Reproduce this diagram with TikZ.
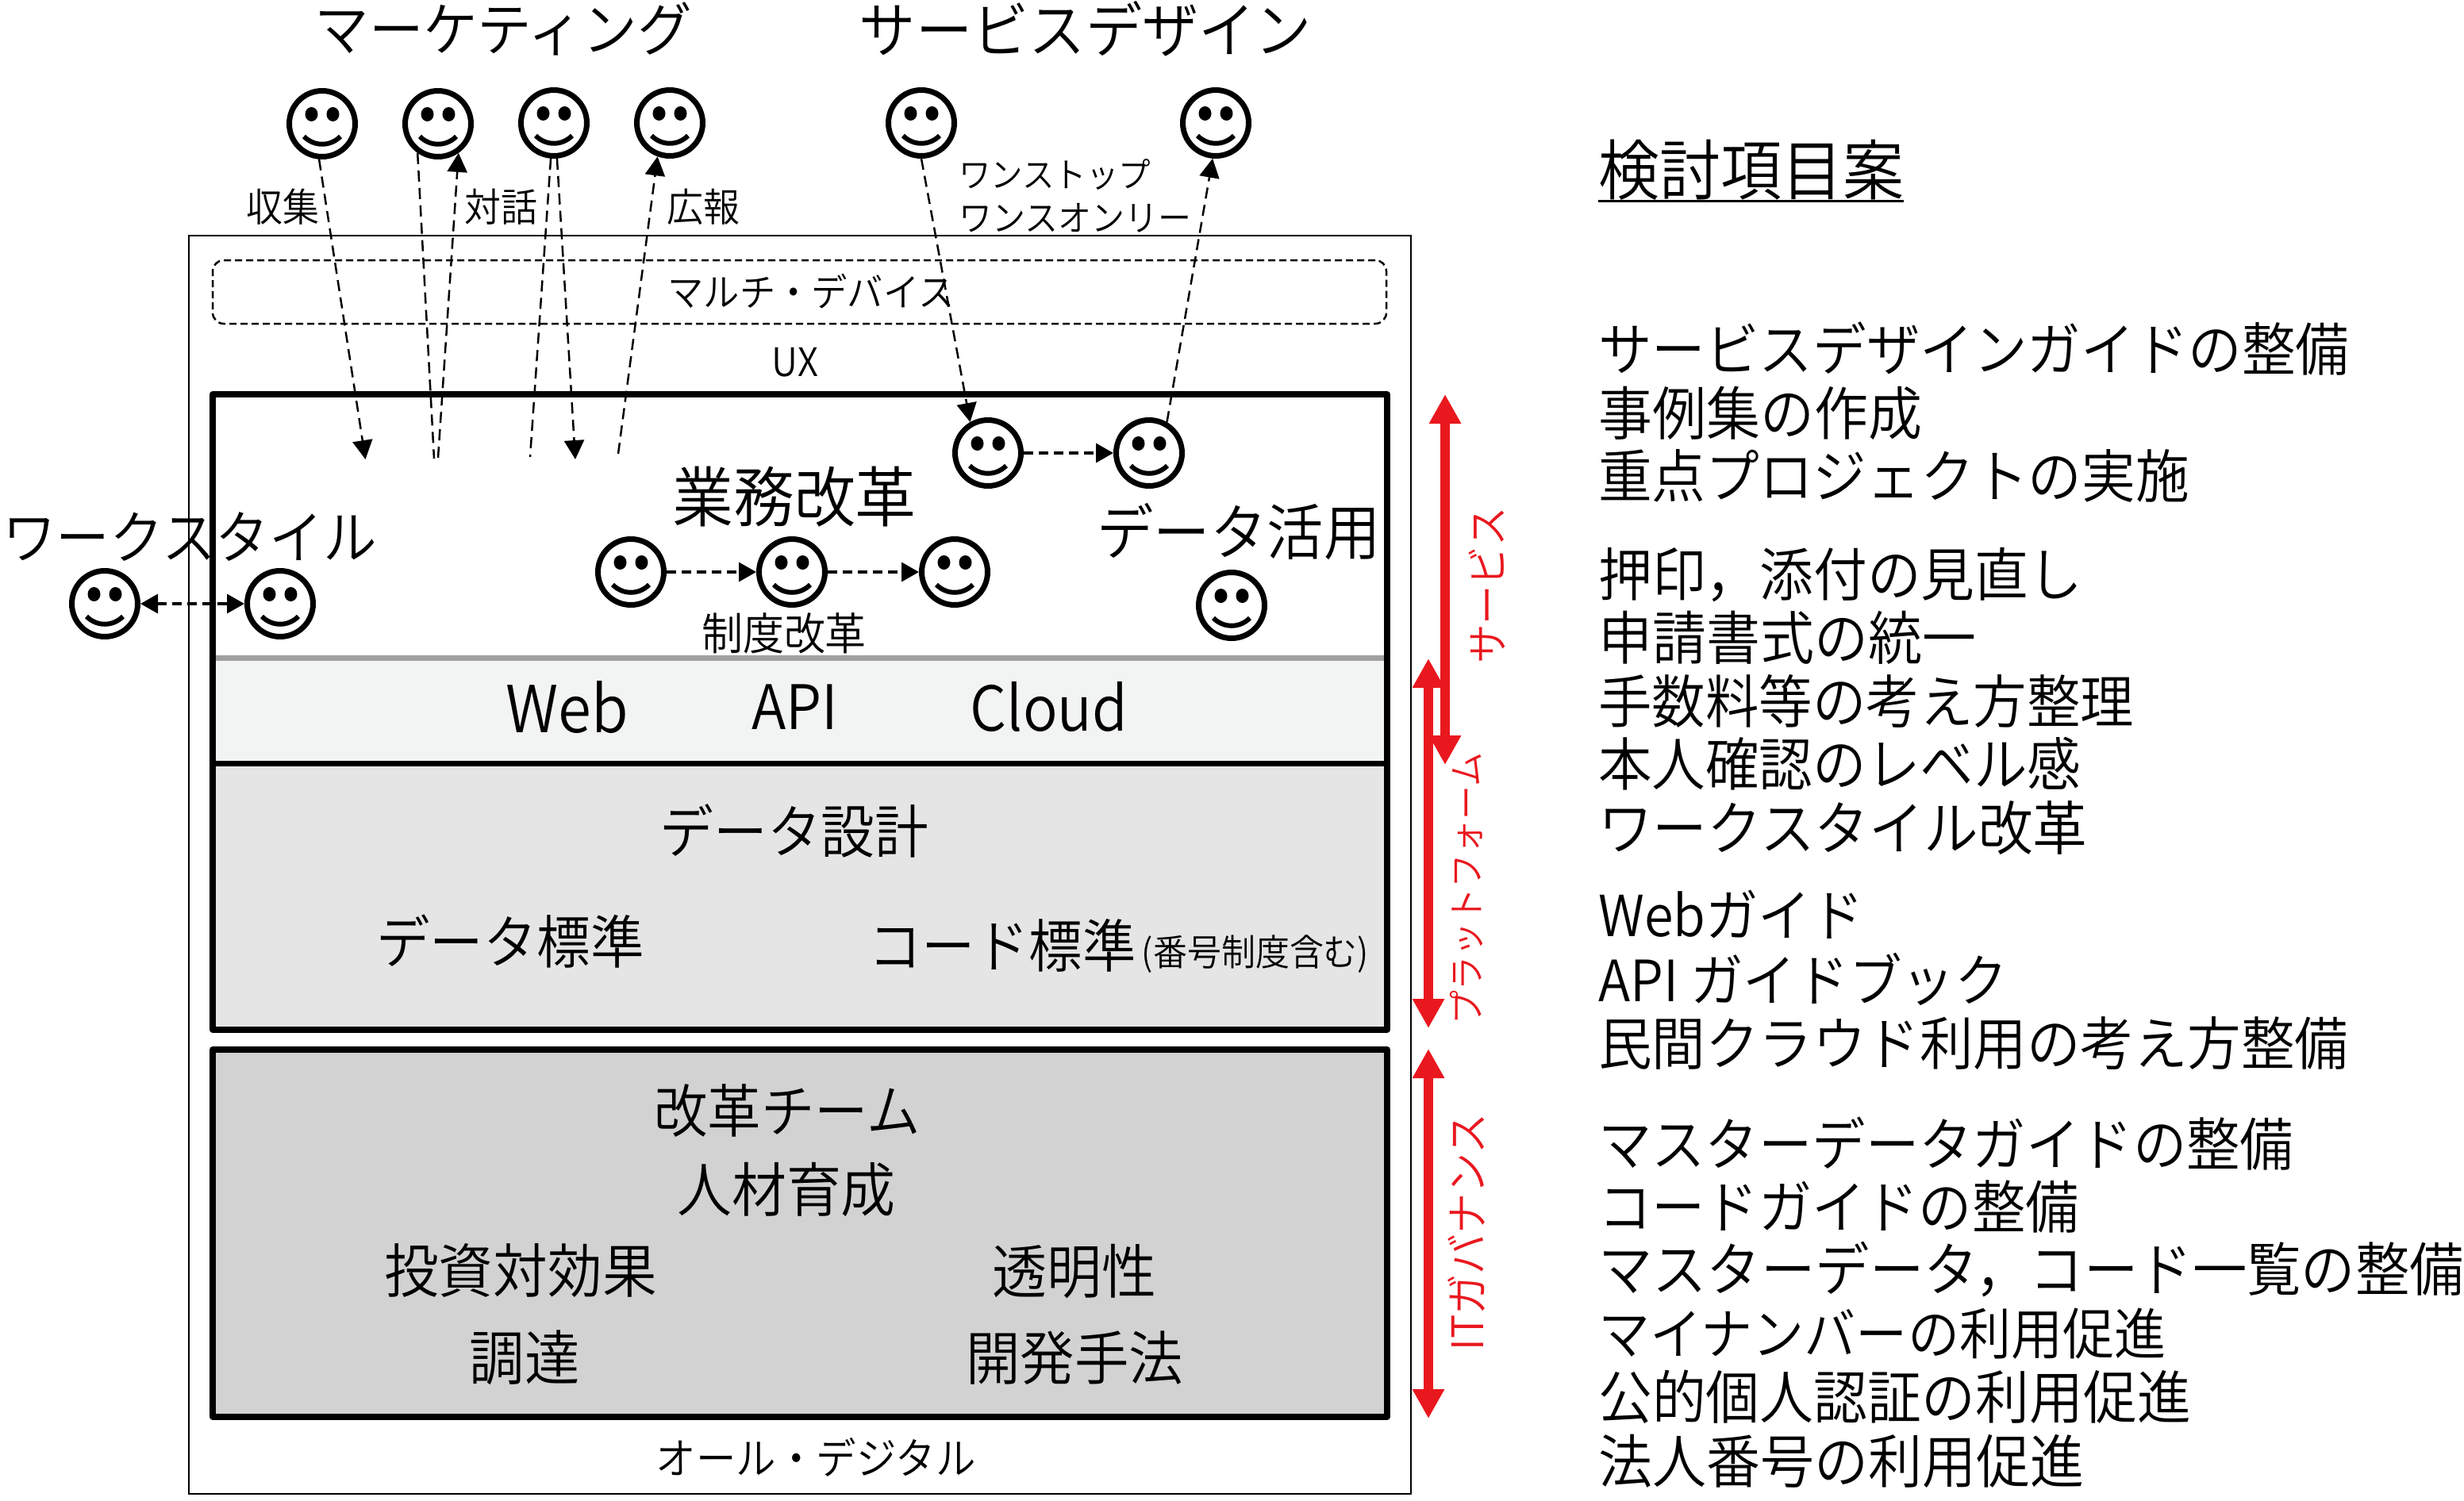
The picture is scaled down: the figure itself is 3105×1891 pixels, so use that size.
\documentclass[tikz,border=0pt]{standalone}
\usepackage{fontspec}
\usetikzlibrary{arrows.meta}
\newfontfamily\jp[FakeStretch=0.93]{Noto Sans CJK JP DemiLight}
\definecolor{redline}{HTML}{E9181E}
\definecolor{webfill}{HTML}{F2F4F3}
\definecolor{datafill}{HTML}{E5E5E5}
\definecolor{govfill}{HTML}{D2D2D2}
\definecolor{grayline}{HTML}{A0A0A0}
\tikzset{
  txt/.style={font=\jp\fontsize{\fpeval{#1*1.075}}{\fpeval{#1*1.2}}\selectfont,inner sep=0pt,text=black},
  item/.style={txt=#1,anchor=west},
  item/.default=68,
  redtxt/.style={txt=#1,text=redline,rotate=90},
  smile/.style={circle,draw=black,line width=7pt,minimum size=83pt,inner sep=0pt,fill=white},
  panel/.style={rectangle,inner sep=0pt,draw=none},
  thick box/.style={rectangle,inner sep=0pt,draw=black,line width=7.5pt,line join=round},
  longarrow/.style={dash pattern=on 14pt off 8pt,line width=2.5pt,-{Triangle[length=24pt,width=25pt]}},
  longline/.style={dash pattern=on 14pt off 8pt,line width=2.5pt},
  shortarrow/.style={dash pattern=on 12pt off 7pt,line width=3.5pt,-{Triangle[length=22pt,width=24pt]}},
  bothshort/.style={dash pattern=on 12pt off 7pt,line width=3.5pt,{Triangle[length=22pt,width=24pt]}-{Triangle[length=22pt,width=24pt]}},
  redarrow/.style={draw=redline,line width=12pt,{Triangle[length=37pt,width=38pt]}-{Triangle[length=37pt,width=38pt]}},
}
\newcommand{\smileyface}[3]{%
  \node[smile] (#1) at (#2,#3) {};
  \fill ([shift={(-13.5,-12)}]#1.center) ellipse [x radius=8pt,y radius=9pt];
  \fill ([shift={(13.5,-12)}]#1.center) ellipse [x radius=8pt,y radius=9pt];
  \draw[line width=6pt] ([shift={(-23,16)}]#1.center) .. controls ([shift={(-10,29)}]#1.center) and ([shift={(10,29)}]#1.center) .. ([shift={(23,16)}]#1.center);
}
\begin{document}
\begin{tikzpicture}[x=1pt,y=-1pt]
\useasboundingbox (0,0) rectangle (3105,1891);
% frames
\node[rectangle,draw=black,line width=2.5pt,minimum width=1540pt,minimum height=1586pt,inner sep=0pt] (outer) at (1008,1090) {};
\node[rectangle,draw=black,line width=2.5pt,dash pattern=on 9pt off 5pt,rounded corners=14pt,minimum width=1479pt,minimum height=80pt,inner sep=0pt] (multi) at (1007.5,368) {};
% panels
\node[panel,fill=white,minimum width=1480pt,minimum height=333pt] (svc) at (1008,663.5) {};
\node[panel,fill=webfill,minimum width=1480pt,minimum height=132pt] (web) at (1008,896) {};
\node[panel,fill=datafill,minimum width=1480pt,minimum height=336pt] (data) at (1008,1130) {};
\draw[grayline,line width=7pt] (web.north west) -- (web.north east);
\draw[black,line width=7pt] (web.south west) -- (web.south east);
\node[thick box,minimum width=1480pt,minimum height=801pt] (stack) at (1008,897.5) {};
\node[thick box,fill=govfill,minimum width=1480pt,minimum height=463pt] (gov) at (1008,1554.5) {};
% title labels
\node[txt=68.7] (tmkt) at (634,36) {マーケティング};
\node[txt=71.3] (tsd) at (1368,36) {サービスデザイン};
\node[txt=46] (lshu) at (356,261) {収集};
\node[txt=46] (ltai) at (631,261) {対話};
\node[txt=46] (lkou) at (886,261) {広報};
\node[txt=40.5,anchor=west] (lone1) at (1208,220) {ワンストップ};
\node[txt=42,anchor=west] (lone2) at (1208,275) {ワンスオンリー};
\node[txt=45.3] (lmulti) at (1022,367) {マルチ・デバイス};
\node[txt=46] (lux) at (1002,457) {UX};
\node[txt=77] (lgyo) at (1001,626) {業務改革};
\node[txt=67.7] (lwork) at (239,677) {ワークスタイル};
\node[txt=71.4] (ldat) at (1561,670) {データ活用};
\node[txt=52] (lsei) at (988,798) {制度改革};
\node[txt=76] (lweb) at (715,891) {Web};
\node[txt=72] (lapi) at (1002,891) {API};
\node[txt=72.6] (lcloud) at (1322,891) {Cloud};
\node[txt=67.8] (lds) at (1001,1047) {データ設計};
\node[txt=67.6] (ldh) at (643,1187) {データ標準};
\node[txt=67.4] (lch) at (1263,1192) {コード標準};
\node[txt=43] (lbg) at (1582,1203) {(番号制度含む)};
\node[txt=67.5] (lkai) at (992,1400) {改革チーム};
\node[txt=69] (ljin) at (991,1499) {人材育成};
\node[txt=68.7] (ltou) at (656,1602) {投資対効果};
\node[txt=69] (ltom) at (1354,1603) {透明性};
\node[txt=69.5] (lcho) at (661,1711) {調達};
\node[txt=68.5] (lkai2) at (1354,1712) {開発手法};
\node[txt=50.5] (lall) at (1028,1837) {オール・デジタル};
% faces
\smileyface{f1}{406}{156}
\smileyface{f2}{552}{156}
\smileyface{f3}{698}{155}
\smileyface{f4}{844}{155}
\smileyface{f5}{1161}{155}
\smileyface{f6}{1532}{155}
\smileyface{f7}{1245}{571}
\smileyface{f8}{1448}{571}
\smileyface{f9}{795}{721}
\smileyface{f10}{998}{721}
\smileyface{f11}{1203}{721}
\smileyface{f12}{1552}{763}
\smileyface{f13}{132}{761}
\smileyface{f14}{353}{761}
% free ends
\coordinate (e1) at (460.5,579);
\coordinate (e2) at (547,578);
\coordinate (e2b) at (552,577);
\coordinate (e3) at (668,576);
\coordinate (e3b) at (725,579);
\coordinate (e4) at (779,572);
% connectors
\draw[longarrow] (f1.265) -- (e1);
\draw[longline] (f2.235) -- (e2);
\draw[longarrow] (e2b) -- (f2.-55);
\draw[longline] (f3.265) -- (e3);
\draw[longarrow] (f3.275) -- (e3b);
\draw[longarrow] (e4) -- (f4.-110);
\draw[longarrow] (f5.270) -- (f7.120);
\draw[longarrow] (f8.60) -- (f6.265);
\draw[shortarrow] (f7) -- (f8);
\draw[shortarrow] (f9) -- (f10);
\draw[shortarrow] (f10) -- (f11);
\draw[bothshort] (f13) -- (f14);
% red
\coordinate (r1a) at (1821,497);
\coordinate (r1b) at (1821,964);
\coordinate (r2a) at (1800,830);
\coordinate (r2b) at (1800,1296);
\coordinate (r3a) at (1800,1322);
\coordinate (r3b) at (1800,1788);
\draw[redarrow] (r1a) -- (r1b);
\draw[redarrow] (r2a) -- (r2b);
\draw[redarrow] (r3a) -- (r3b);
\node[redtxt=49.5] (rsvc) at (1874,738) {サービス};
\node[redtxt=43] (rplt) at (1848,1120) {プラットフォーム};
\node[redtxt=51] (rgov) at (1848,1553) {ITガバナンス};
% right column
\node[txt=77,anchor=west] (thead) at (2014,214) {検討項目案};
\draw[line width=3pt] ([yshift=-39pt]thead.west) -- ([yshift=-39pt]thead.east);
\node[item=67.6] (i1) at (2014,440) {サービスデザインガイドの整備};
\node[item=68] (i2) at (2014,521) {事例集の作成};
\node[item=67.7] (i3) at (2014,600) {重点プロジェクトの実施};
\node[item=67.8] (i4) at (2014,725) {押印，添付の見直し};
\node[item=68] (i5) at (2014,804) {申請書式の統一};
\node[item=67.5] (i6) at (2014,884) {手数料等の考え方整理};
\node[item=67.6] (i7) at (2014,963) {本人確認のレベル感};
\node[item=68.7] (i8) at (2014,1044) {ワークスタイル改革};
\node[item=66.4] (i9) at (2014,1153) {Webガイド};
\node[item=66.7] (i10) at (2014,1234) {API ガイドブック};
\node[item=67.5] (i11) at (2014,1315) {民間クラウド利用の考え方整備};
\node[item=67.4] (i12) at (2014,1442) {マスターデータガイドの整備};
\node[item=67.3] (i13) at (2014,1521) {コードガイドの整備};
\node[item=68.4] (i14) at (2014,1600) {マスターデータ，コード一覧の整備};
\node[item=65.2] (i15) at (2014,1681) {マイナンバーの利用促進};
\node[item=67.9] (i16) at (2014,1761) {公的個人認証の利用促進};
\node[item=68.1] (i17) at (2014,1842) {法人番号の利用促進};
\end{tikzpicture}
\end{document}
